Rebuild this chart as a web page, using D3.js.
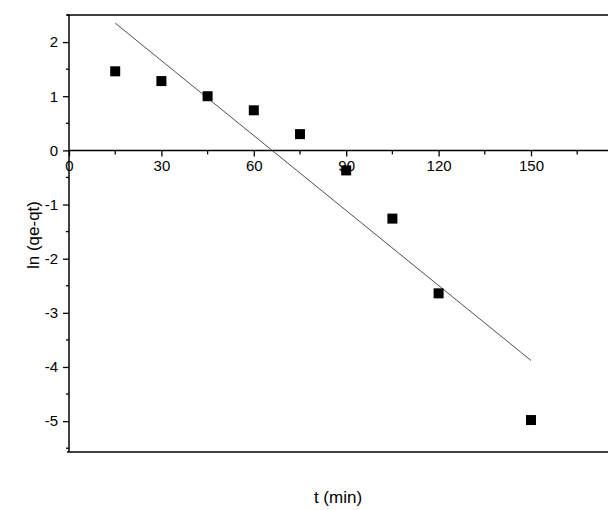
<!DOCTYPE html>
<html><head><meta charset="utf-8">
<script src="https://cdn.jsdelivr.net/npm/d3@7"></script>
<style>body{margin:0;background:#fff}text{font-family:"Liberation Sans",Arial,sans-serif}</style>
</head><body><svg id="chart" width="608" height="510"></svg>
<script>
const times = [15, 30, 45, 60, 75, 90, 105, 120, 150];
const lnValues = [1.46, 1.28, 1.0, 0.74, 0.3, -0.37, -1.26, -2.64, -4.98];
const fitX = [15, 150];
const fitY = [2.35, -3.88];
const xTicks = [0, 30, 60, 90, 120, 150];
const yTicks = [2, 1, 0, -1, -2, -3, -4, -5];

const svg = d3.select("#chart");
const pLeft = 69, pRight = 608, pTop = 15, pBottom = 452;
const x = d3.scaleLinear().domain([0, 175]).range([pLeft, pRight]);
const y = d3.scaleLinear().domain([-5.57, 2.5]).range([pBottom, pTop]);

// frame lines
svg.append("line").attr("x1", pLeft - 2).attr("x2", pRight).attr("y1", pTop).attr("y2", pTop).attr("stroke", "#000").attr("stroke-width", 1.5);
svg.append("line").attr("x1", pLeft - 2).attr("x2", pRight).attr("y1", pBottom).attr("y2", pBottom).attr("stroke", "#000").attr("stroke-width", 1.5);

// y axis
const yAxis = svg.append("g").attr("transform", "translate(" + pLeft + ",0)")
    .call(d3.axisLeft(y).tickValues(yTicks).tickSize(6).tickPadding(5).tickFormat(d => String(d)));
yAxis.select(".domain").attr("d", "M0," + pTop + "V" + pBottom).attr("stroke-width", 1.5);
yAxis.selectAll("text").attr("font-size", 15).attr("fill", "#000");
yAxis.selectAll("line").attr("stroke-width", 1.3);
svg.append("g").selectAll("line").data(d3.range(-5.5, 2.6, 1)).enter().append("line")
    .attr("x1", pLeft - 3).attr("x2", pLeft).attr("y1", d => y(d)).attr("y2", d => y(d)).attr("stroke", "#000").attr("stroke-width", 1.3);

// x axis on zero line
const xAxis = svg.append("g").attr("transform", "translate(0," + y(0) + ")")
    .call(d3.axisBottom(x).tickValues(xTicks).tickSize(6).tickPadding(4).tickFormat(d => String(d)));
xAxis.select(".domain").attr("d", "M" + pLeft + ",0H" + pRight).attr("stroke-width", 1.5);
xAxis.selectAll("text").attr("font-size", 15).attr("fill", "#000");
xAxis.selectAll("line").attr("stroke-width", 1.3);
svg.append("g").selectAll("line").data(d3.range(15, 176, 30)).enter().append("line")
    .attr("x1", d => x(d)).attr("x2", d => x(d)).attr("y1", y(0)).attr("y2", y(0) + 4).attr("stroke", "#000").attr("stroke-width", 1.3);

// fit line
svg.append("line").attr("x1", x(fitX[0])).attr("y1", y(fitY[0])).attr("x2", x(fitX[1])).attr("y2", y(fitY[1]))
    .attr("stroke", "#222").attr("stroke-width", 0.8);

// points
svg.selectAll("rect.pt").data(times).enter().append("rect").attr("class", "pt")
    .attr("x", (d) => x(d) - 5).attr("y", (d, i) => y(lnValues[i]) - 5)
    .attr("width", 10).attr("height", 10).attr("fill", "#000");

// labels
svg.append("text").attr("x", 338).attr("y", 503).attr("text-anchor", "middle").attr("font-size", 17).text("t (min)");
svg.append("text").attr("transform", "translate(39,235) rotate(-90)").attr("text-anchor", "middle").attr("font-size", 17).text("ln (qe-qt)");
</script></body></html>
